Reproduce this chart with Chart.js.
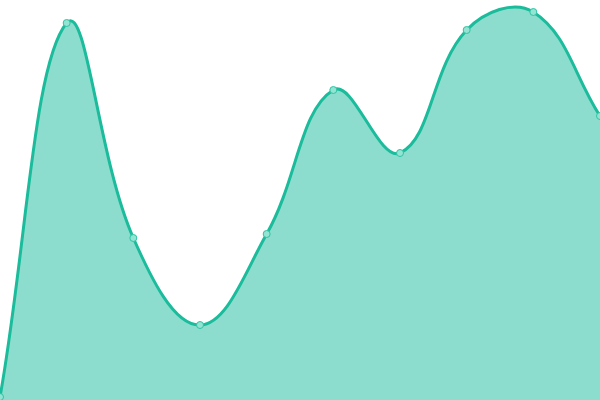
<!DOCTYPE html>
<html><head><meta charset="utf-8">
<script src="https://cdn.jsdelivr.net/npm/chart.js@4/dist/chart.umd.min.js"></script>
<style>html,body{margin:0;padding:0;background:#fff}#wrap{width:600px;height:400px}</style>
</head><body><div id="wrap"><canvas id="c"></canvas></div>
<script>
const labels = ["1","2","3","4","5","6","7","8","9","10"];
const values = [3, 377, 162, 75, 166, 310, 247, 370, 388, 284];
new Chart(document.getElementById('c'), {
  type: 'line',
  data: { labels: labels, datasets: [{
    data: values,
    borderColor: '#1abc9c',
    backgroundColor: 'rgba(26,188,156,0.5)',
    pointBackgroundColor: 'rgba(148,228,211,1)',
    pointBorderColor: '#2ec2a3',
    pointBorderWidth: 1,
    pointRadius: 3.5,
    borderWidth: 3,
    fill: 'start',
    tension: 0.4,
    clip: false
  }]},
  options: {
    responsive: true, maintainAspectRatio: false, animation: false,
    layout: { padding: 0, autoPadding: false },
    plugins: { legend: { display: false }, tooltip: { enabled: false } },
    scales: {
      x: { display: false },
      y: { display: false, min: 0, max: 400 }
    }
  }
});
</script></body></html>
